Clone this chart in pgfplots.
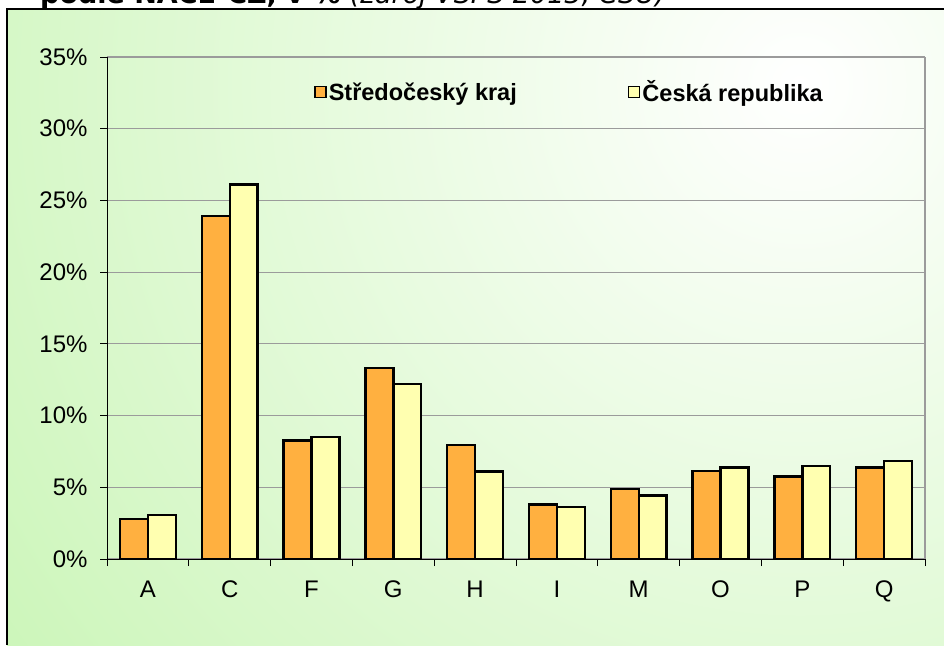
\documentclass[border=0pt]{standalone}
\usepackage{pgfplots}
\pgfplotsset{compat=1.18}
\usepackage{fontspec}
\setmainfont{Liberation Sans}
\newfontfamily\titlefont{DejaVu Sans}
\definecolor{bggreen}{RGB}{200,245,180}
\definecolor{barorange}{RGB}{255,176,64}
\definecolor{baryellow}{RGB}{255,255,176}
\definecolor{gridgray}{RGB}{155,155,155}
\begin{document}
\begin{tikzpicture}[x=1pt,y=1pt]
% background
\begin{scope}
\clip (7,0) rectangle (944,636);
\shade[inner color=white, outer color=bggreen] (800,560) circle (1060);
\end{scope}
\draw[black, line width=1.2pt] (7,0) -- (7,636) -- (944,636);
% clipped title
\begin{scope}
\clip (0,637) rectangle (944,645);
\node[anchor=base west, inner sep=0pt] at (40,641) {\titlefont\fontsize{27}{32}\selectfont\bfseries podle NACE-CZ, v \% \mdseries\itshape (zdroj VŠPS 2013, ČSÚ)};
\end{scope}
\begin{axis}[
  at={(107pt,86pt)}, anchor=south west,
  scale only axis, width=818pt, height=502pt,
  xmin=-0.5, xmax=9.5, ymin=0, ymax=35,
  axis lines=left, axis line style={-, line width=1pt, black},
  tick align=outside,
  xtick={0,...,9},
  xticklabels={A,C,F,G,H,I,M,O,P,Q},
  major x tick style={draw=none},
  minor xtick={-0.5,0.5,...,9.5},
  minor tick length=7pt,
  minor x tick style={black, line width=0.8pt},
  ytick={0,5,...,35},
  yticklabel={\pgfmathprintnumber[assume math mode=true]{\tick}\%},
  major tick length=7pt,
  major y tick style={black, line width=0.8pt},
  ymajorgrids, grid style={gridgray, line width=1.2pt},
  tick label style={font=\fontsize{24}{28}\selectfont},
  xticklabel style={yshift=-11pt},
  yticklabel style={xshift=-9pt},
  ybar, bar width=0.34,
  legend columns=2,
  legend style={at={(0.253,0.93)}, anchor=west, draw=none, fill=none,
    font=\fontsize{23.5}{27}\selectfont\bfseries,
    /tikz/every even column/.append style={column sep=109pt},
    inner sep=0pt},
  legend image code/.code={\draw[#1, line width=1.6pt] (0pt,-5.5pt) rectangle (11pt,5.5pt);},
  after end axis/.code={\draw[gridgray, line width=1.2pt] (rel axis cs:1,0) -- (rel axis cs:1,1);},
]
\addplot[fill=barorange, draw=black, line width=2.4pt, bar shift=-0.17] coordinates {
(0,2.8) (1,23.9) (2,8.26) (3,13.3) (4,7.96) (5,3.8) (6,4.88) (7,6.13) (8,5.74) (9,6.37)};
\addplot[fill=baryellow, draw=black, line width=2.4pt, bar shift=0.17] coordinates {
(0,3.06) (1,26.1) (2,8.5) (3,12.2) (4,6.09) (5,3.63) (6,4.44) (7,6.37) (8,6.5) (9,6.85)};
\legend{Středočeský kraj, Česká republika}
\end{axis}
\pgfresetboundingbox
\path[use as bounding box] (0,0) rectangle (944,645);
\end{tikzpicture}
\end{document}
